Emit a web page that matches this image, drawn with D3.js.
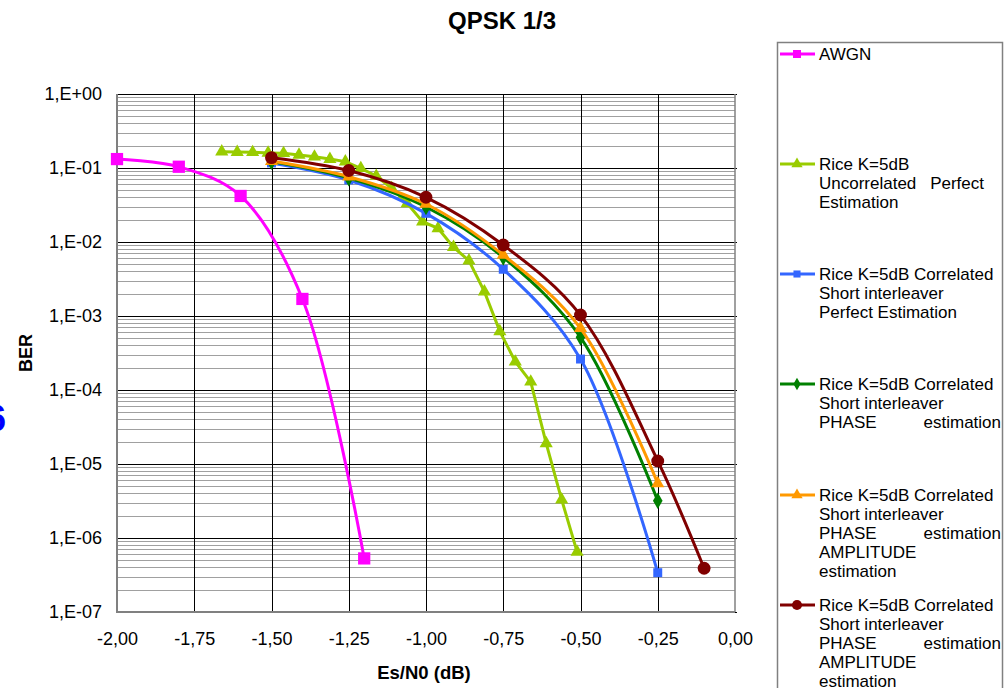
<!DOCTYPE html>
<html>
<head>
<meta charset="utf-8">
<script src="https://cdn.jsdelivr.net/npm/d3@7"></script>
<style>
  html, body { margin: 0; padding: 0; background: #fff; }
  svg { display: block; font-family: "Liberation Sans", Arial, sans-serif; }
</style>
</head>
<body>
<svg id="chart" width="1004" height="688"></svg>
<script>
// ---------------- data ----------------
const title = "QPSK 1/3";
const xTitle = "Es/N0 (dB)";
const yTitle = "BER";
const xTicks = [-2.0, -1.75, -1.5, -1.25, -1.0, -0.75, -0.5, -0.25, 0.0];
const yTicks = [1e0, 1e-1, 1e-2, 1e-3, 1e-4, 1e-5, 1e-6, 1e-7];
const yTickLabels = ["1,E+00", "1,E-01", "1,E-02", "1,E-03", "1,E-04", "1,E-05", "1,E-06", "1,E-07"];

const awgnX = [-2.0, -1.8, -1.6, -1.4, -1.2];
const awgnY = [0.132, 0.104, 0.0419, 0.0017, 5.3e-7];

const uncorrX = [-1.661, -1.611, -1.561, -1.511, -1.461, -1.411, -1.361, -1.311, -1.261, -1.211, -1.161, -1.111,
                 -1.061, -1.011, -0.961, -0.911, -0.861, -0.811, -0.761, -0.711, -0.661, -0.611, -0.561, -0.511];
const uncorrY = [0.166, 0.164, 0.163, 0.160, 0.158, 0.150, 0.142, 0.132, 0.122, 0.099, 0.078, 0.0532,
                 0.0333, 0.0188, 0.0153, 0.0085, 0.0056, 0.00213, 6.2e-4, 2.41e-4, 1.29e-4, 1.9e-5, 3.3e-6, 6.5e-7];

const corrX = [-1.5, -1.25, -1.0, -0.75, -0.5, -0.25];
const perfectY = [0.117, 0.0689, 0.0244, 0.00428, 2.62e-4, 3.4e-7];
const phaseY = [0.122, 0.073, 0.0297, 0.00621, 5.15e-4, 3.19e-6];
const phaseAmpY = [0.124, 0.0763, 0.0326, 0.00667, 6.82e-4, 5.48e-6];

const phaseAmp2X = [-1.5, -1.25, -1.0, -0.75, -0.5, -0.25, -0.1];
const phaseAmp2Y = [0.138, 0.0925, 0.0402, 0.0091, 1.03e-3, 1.1e-5, 3.9e-7];

const seriesNames = [
  ["AWGN"],
  ["Rice K=5dB", ["Uncorrelated", "Perfect"], "Estimation"],
  ["Rice K=5dB Correlated", "Short interleaver", "Perfect Estimation"],
  ["Rice K=5dB Correlated", "Short interleaver", ["PHASE", "estimation"]],
  ["Rice K=5dB Correlated", "Short interleaver", ["PHASE", "estimation"], "AMPLITUDE", "estimation"],
  ["Rice K=5dB Correlated", "Short interleaver", ["PHASE", "estimation"], "AMPLITUDE", "estimation"]
];

// ---------------- build series ----------------
const zip = (xs, ys) => xs.map((x, i) => ({x, y: ys[i]}));
const series = [
  {name: seriesNames[0], data: zip(awgnX, awgnY), color: "#FF00FF", symbol: d3.symbolSquare, size: 150, lsize: 64, smooth: true},
  {name: seriesNames[1], data: zip(uncorrX, uncorrY), color: "#99CC00", symbol: d3.symbolTriangle, size: 75, lsize: 55, smooth: false},
  {name: seriesNames[2], data: zip(corrX, perfectY), color: "#3366FF", symbol: d3.symbolSquare, size: 80, lsize: 50, smooth: true},
  {name: seriesNames[3], data: zip(corrX, phaseY), color: "#008000", symbol: d3.symbolDiamond, size: 80, lsize: 45, smooth: true},
  {name: seriesNames[4], data: zip(corrX, phaseAmpY), color: "#FF9900", symbol: d3.symbolTriangle, size: 75, lsize: 55, smooth: true},
  {name: seriesNames[5], data: zip(phaseAmp2X, phaseAmp2Y), color: "#800000", symbol: d3.symbolCircle, size: 130, lsize: 80, smooth: true}
];

// ---------------- layout ----------------
const svg = d3.select("#chart");
const plot = {left: 117, right: 735, top: 94, bottom: 612};

const x = d3.scaleLinear().domain([-2, 0]).range([plot.left, plot.right]);
const y = d3.scaleLog().domain([1e-7, 1]).range([plot.bottom, plot.top]);

// minor horizontal grid
const minor = [];
for (let e = -7; e < 0; e++) for (let m = 2; m <= 9; m++) minor.push(m * Math.pow(10, e));
const grid = svg.append("g");
grid.selectAll("line.minor").data(minor).join("line")
  .attr("x1", plot.left).attr("x2", plot.right)
  .attr("y1", d => Math.round(y(d)) + 0.5).attr("y2", d => Math.round(y(d)) + 0.5)
  .attr("stroke", "#a0a0a0").attr("stroke-width", 1);
grid.selectAll("line.major").data(yTicks).join("line")
  .attr("x1", plot.left).attr("x2", plot.right + 2)
  .attr("y1", d => Math.round(y(d)) + 0.5).attr("y2", d => Math.round(y(d)) + 0.5)
  .attr("stroke", "#000").attr("stroke-width", 1);
grid.selectAll("line.vert").data(xTicks.slice(1, -1)).join("line")
  .attr("x1", d => Math.round(x(d)) + 0.5).attr("x2", d => Math.round(x(d)) + 0.5)
  .attr("y1", plot.top).attr("y2", plot.bottom)
  .attr("stroke", "#000").attr("stroke-width", 1);

// borders
svg.append("line").attr("x1", plot.left).attr("x2", plot.left).attr("y1", plot.top).attr("y2", plot.bottom + 1)
  .attr("stroke", "#808080").attr("stroke-width", 2);
svg.append("line").attr("x1", plot.left).attr("x2", plot.right).attr("y1", plot.bottom).attr("y2", plot.bottom)
  .attr("stroke", "#808080").attr("stroke-width", 2);
svg.append("line").attr("x1", plot.right).attr("x2", plot.right).attr("y1", plot.top).attr("y2", plot.bottom)
  .attr("stroke", "#808080").attr("stroke-width", 1.5);

// axes
const fmtX = d => d.toFixed(2).replace(".", ",");
const xAxis = svg.append("g").attr("transform", `translate(0,${plot.bottom})`)
  .call(d3.axisBottom(x).tickValues(xTicks).tickFormat(fmtX).tickSize(0).tickPadding(20));
const yAxis = svg.append("g").attr("transform", `translate(${plot.left},0)`)
  .call(d3.axisLeft(y).tickValues(yTicks).tickFormat((d, i) => yTickLabels[i]).tickSize(0).tickPadding(15));
[xAxis, yAxis].forEach(a => {
  a.select(".domain").remove();
  a.selectAll("text").attr("font-size", 18).attr("fill", "#000")
    .attr("font-family", "Liberation Sans, Arial, sans-serif");
});

// titles
svg.append("text").attr("x", 502).attr("y", 29).attr("text-anchor", "middle")
  .attr("font-size", 24).attr("font-weight", "bold").text(title);
svg.append("text").attr("x", 424).attr("y", 679).attr("text-anchor", "middle")
  .attr("font-size", 18.5).attr("font-weight", "bold").text(xTitle);
svg.append("text").attr("transform", "translate(32,353) rotate(-90)").attr("text-anchor", "middle")
  .attr("font-size", 18).attr("font-weight", "bold").text(yTitle);

// stray blue glyph at the left edge
svg.append("text").attr("x", -14).attr("y", 431).attr("font-size", 36).attr("font-weight", "bold")
  .attr("fill", "#0000FF").text("6");

// series
const lineSmooth = d3.line().x(d => x(d.x)).y(d => y(d.y)).curve(d3.curveCatmullRom.alpha(0.5));
const lineStraight = d3.line().x(d => x(d.x)).y(d => y(d.y));
const gSeries = svg.append("g");
series.forEach(s => {
  const g = gSeries.append("g");
  g.append("path").attr("d", (s.smooth ? lineSmooth : lineStraight)(s.data))
    .attr("fill", "none").attr("stroke", s.color).attr("stroke-width", 3);
  g.selectAll("path.m").data(s.data).join("path")
    .attr("transform", d => `translate(${x(d.x)},${y(d.y)})`)
    .attr("d", d3.symbol().type(s.symbol).size(s.size)).attr("fill", s.color);
});

// legend
const legend = svg.append("g");
legend.append("rect").attr("x", 777.5).attr("y", 42.5).attr("width", 225).attr("height", 700)
  .attr("fill", "#fff").attr("stroke", "#808080").attr("stroke-width", 1.5);
const legendTop = [54, 164, 274, 384, 495, 605];
const lineH = 19;
const justifyRight = [null, 984, null, 1001, 1001, 1001];
series.forEach((s, i) => {
  const cy = legendTop[i];
  legend.append("line").attr("x1", 780).attr("x2", 815).attr("y1", cy).attr("y2", cy)
    .attr("stroke", s.color).attr("stroke-width", 3);
  legend.append("path").attr("transform", `translate(797,${cy})`)
    .attr("d", d3.symbol().type(s.symbol).size(s.lsize)).attr("fill", s.color);
  s.name.forEach((ln, j) => {
    const by = cy + 6 + j * lineH;
    if (Array.isArray(ln)) {
      legend.append("text").attr("x", 819).attr("y", by).attr("font-size", 17).text(ln[0]);
      legend.append("text").attr("x", justifyRight[i]).attr("y", by).attr("text-anchor", "end")
        .attr("font-size", 17).text(ln[1]);
    } else {
      legend.append("text").attr("x", 819).attr("y", by).attr("font-size", 17).text(ln);
    }
  });
});
</script>
</body>
</html>
